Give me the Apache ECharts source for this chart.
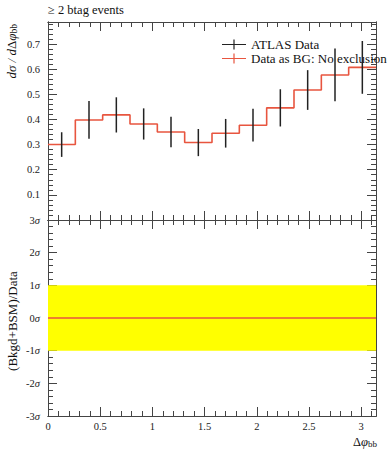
<!DOCTYPE html>
<html><head><meta charset="utf-8">
<script src="https://cdn.jsdelivr.net/npm/echarts@6/dist/echarts.min.js"></script>
<style>html,body{margin:0;padding:0;background:#fff}#c{width:389px;height:450px}</style>
</head><body><div id="c"></div>
<script>
// ---- data ----
const binEdges = [0, 0.2618, 0.5236, 0.7854, 1.0472, 1.3090, 1.5708, 1.8326, 2.0944, 2.3562, 2.6180, 2.8798, 3.1416];
const atlasData = [0.300, 0.398, 0.418, 0.382, 0.350, 0.308, 0.345, 0.377, 0.446, 0.517, 0.577, 0.607];
const atlasErr  = [0.049, 0.075, 0.070, 0.062, 0.061, 0.054, 0.057, 0.065, 0.074, 0.079, 0.105, 0.105];
const bgData    = [0.300, 0.398, 0.418, 0.382, 0.350, 0.308, 0.345, 0.377, 0.446, 0.517, 0.577, 0.607];
const ratioSigma = [0, 0, 0, 0, 0, 0, 0, 0, 0, 0, 0, 0];
const bandLow = -1, bandHigh = 1;
const xTicks = [0, 0.5, 1, 1.5, 2, 2.5, 3];
const upperYLabels = [0.1, 0.2, 0.3, 0.4, 0.5, 0.6, 0.7];
const lowerYTicks = [-3, -2, -1, 0, 1, 2, 3];

const XMAX = 3.1416, Y1MAX = 0.7875;
const FONT = 'Liberation Serif';
const AX = '#444';

const chart = echarts.init(document.getElementById('c'), null, {renderer: 'svg'});

function stepPoints(vals) {
  const pts = [];
  vals.forEach((v, i) => { pts.push([binEdges[i], v]); pts.push([binEdges[i + 1], v]); });
  return pts;
}
const centers = atlasData.map((v, i) => (binEdges[i] + binEdges[i + 1]) / 2);

function pick(list, fn) {
  return function (v) {
    for (const t of list) if (Math.abs(v - t) < 1e-6) return fn(t);
    return '';
  };
}

function axis(grid, pos, min, max, interval, len, fmt, margin) {
  return {
    type: 'value', gridIndex: grid, position: pos, min: min, max: max, interval: interval,
    axisLine: {show: true, onZero: false, lineStyle: {color: AX, width: 1}},
    axisTick: {show: true, inside: true, length: len, lineStyle: {color: AX, width: 1}},
    splitLine: {show: false},
    axisLabel: fmt ? {show: true, margin: margin || 8, color: '#222', fontFamily: FONT, fontSize: 10.5,
      showMinLabel: true, showMaxLabel: true,
      formatter: fmt, rich: {s: {fontStyle: 'italic', fontFamily: FONT, fontSize: 10.5, color: '#222'}}} : {show: false}
  };
}
const xAxes = [
  axis(0, 'bottom', 0, XMAX, 0.5, 9, null),
  axis(0, 'top', 0, XMAX, 0.5, 9, null),
  axis(1, 'bottom', 0, XMAX, 0.5, 9, pick(xTicks, t => String(t)), 5),
  axis(1, 'top', 0, XMAX, 0.5, 9, null),
  axis(2, 'bottom', 0, XMAX, 0.1, 5, null),
  axis(2, 'top', 0, XMAX, 0.1, 5, null),
  axis(3, 'bottom', 0, XMAX, 0.1, 5, null),
  axis(3, 'top', 0, XMAX, 0.1, 5, null)
];
const yAxes = [
  axis(0, 'left', 0, Y1MAX, 0.1, 9, pick(upperYLabels, t => String(t))),
  axis(0, 'right', 0, Y1MAX, 0.1, 9, null),
  axis(1, 'left', -3, 3, 1, 9, pick(lowerYTicks, t => t + '{s|σ}')),
  axis(1, 'right', -3, 3, 1, 9, null),
  axis(2, 'left', 0, Y1MAX, 0.02, 5, null),
  axis(2, 'right', 0, Y1MAX, 0.02, 5, null),
  axis(3, 'left', -3, 3, 0.2, 5, null),
  axis(3, 'right', -3, 3, 0.2, 5, null)
];

const RED = '#e8553f';
const crossIcon = 'path://M0,4.4h24v1.2h-24z M11.4,0h1.2v10h-1.2z';

const option = {
  animation: false,
  backgroundColor: '#fff',
  grid: [
    {left: 48, top: 22, width: 328, height: 198},
    {left: 48, top: 220, width: 328, height: 196},
    {left: 48, top: 22, width: 328, height: 198},
    {left: 48, top: 220, width: 328, height: 196}
  ],
  xAxis: xAxes,
  yAxis: yAxes,
  legend: {
    left: 222, top: 38, orient: 'vertical', itemWidth: 24, itemHeight: 10, itemGap: 1, padding: 0,
    textStyle: {fontFamily: FONT, fontSize: 13, color: '#111', lineHeight: 12},
    data: [
      {name: 'ATLAS Data', icon: crossIcon, itemStyle: {color: '#222'}},
      {name: 'Data as BG: No exclusion', icon: crossIcon, itemStyle: {color: RED}}
    ]
  },
  series: [
    {
      name: 'band', type: 'custom', xAxisIndex: 2, yAxisIndex: 2,
      data: [[0, bandLow, XMAX, bandHigh]],
      renderItem: function (params, api) {
        const a = api.coord([api.value(0), api.value(3)]);
        const b = api.coord([api.value(2), api.value(1)]);
        return {type: 'rect', shape: {x: a[0], y: a[1], width: b[0] - a[0], height: b[1] - a[1]},
          style: {fill: '#ffff00'}};
      }, z: 1
    },
    {
      name: 'ratio', type: 'line', xAxisIndex: 2, yAxisIndex: 2,
      data: stepPoints(ratioSigma), showSymbol: false, symbol: 'none',
      lineStyle: {color: RED, width: 1.5}, z: 3
    },
    {
      name: 'Data as BG: No exclusion', type: 'line', xAxisIndex: 0, yAxisIndex: 0,
      data: stepPoints(bgData), showSymbol: false, symbol: 'none',
      lineStyle: {color: RED, width: 1.6}, itemStyle: {color: RED}, z: 3
    },
    {
      name: 'ATLAS Data', type: 'custom', xAxisIndex: 0, yAxisIndex: 0,
      data: atlasData.map((v, i) => [centers[i], v, atlasErr[i]]),
      itemStyle: {color: '#222'},
      renderItem: function (params, api) {
        const x = api.value(0), y = api.value(1), e = api.value(2);
        const p1 = api.coord([x, y + e]), p2 = api.coord([x, y - e]);
        return {type: 'line', shape: {x1: p1[0], y1: p1[1], x2: p2[0], y2: p2[1]},
          style: {stroke: '#222', lineWidth: 1.5}};
      }, z: 4
    }
  ],
  graphic: [
    {type: 'text', left: 48, top: 3, style: {text: '≥ 2 btag events', fontFamily: FONT, fontSize: 12.5, fill: '#111'}},
    {type: 'text', x: 11, y: 24, rotation: Math.PI / 2,
      style: {text: '{i|dσ / d}{n|Δ}{i|φ}{sub|bb}', align: 'right', verticalAlign: 'middle', fill: '#111',
        rich: {i: {fontFamily: FONT, fontStyle: 'italic', fontSize: 13, fill: '#111'},
               n: {fontFamily: FONT, fontSize: 13, fill: '#111'},
               sub: {fontFamily: FONT, fontSize: 9.5, fill: '#111', padding: [5, 0, 0, 0]}}}},
    {type: 'text', x: 12, y: 321, rotation: Math.PI / 2,
      style: {text: '(Bkgd+BSM)/Data', align: 'center', verticalAlign: 'middle', fontFamily: FONT, fontSize: 13, fill: '#111'}},
    {type: 'text', x: 377, y: 442,
      style: {text: '{n|Δ}{i|φ}{sub|bb}', align: 'right', verticalAlign: 'middle', fill: '#111',
        rich: {i: {fontFamily: FONT, fontStyle: 'italic', fontSize: 12.5, fill: '#111'},
               n: {fontFamily: FONT, fontSize: 12.5, fill: '#111'},
               sub: {fontFamily: FONT, fontSize: 9, fill: '#111', padding: [4, 0, 0, 0]}}}}
  ]
};
chart.setOption(option);
</script></body></html>
